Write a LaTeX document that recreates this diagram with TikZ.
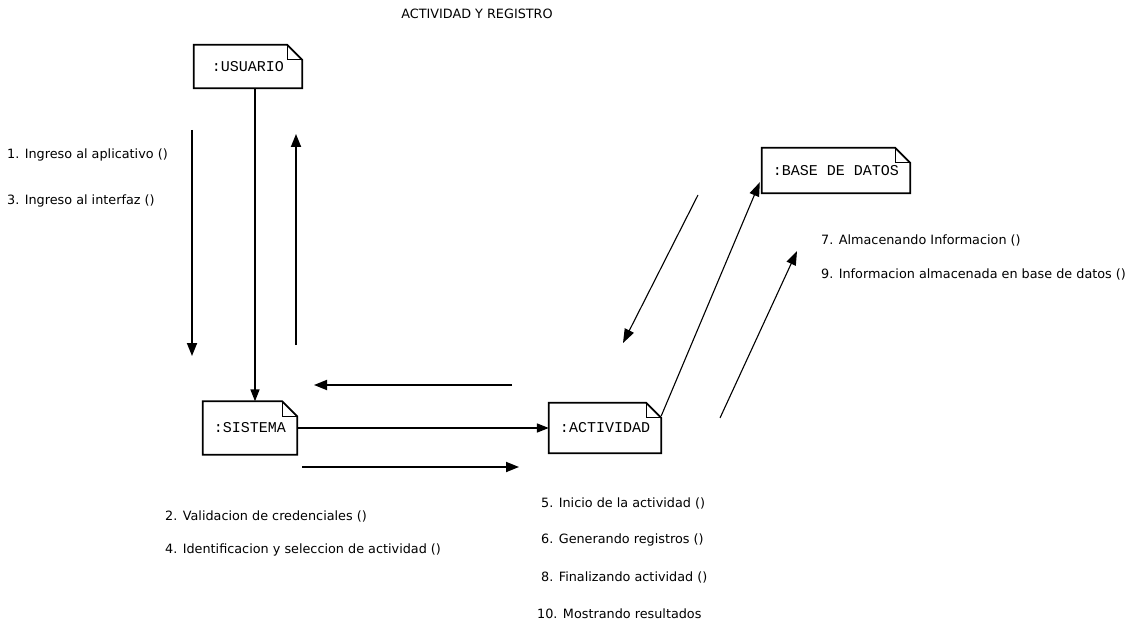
\documentclass[tikz,border=0pt]{standalone}
\usepackage{fontspec}
\setmainfont{DejaVu Sans}
\newfontfamily\monof{Liberation Mono}
\usetikzlibrary{arrows.meta}
\tikzset{
  obj/.style={draw=none, inner sep=0pt, font=\monof\fontsize{15}{16}\selectfont},
  outline/.style={line width=1.8pt, line join=miter},
  fold/.style={line width=1pt},
  link/.style={line width=1.6pt, -{Triangle[length=12pt,width=9pt]}},
  thinlink/.style={line width=1.1pt, -{Triangle[length=14pt,width=10pt]}},
  msg/.style={line width=1.8pt, -{Triangle[length=13pt,width=10pt]}},
  dmsg/.style={line width=1.1pt, -{Triangle[length=14pt,width=10pt]}},
  lbl/.style={anchor=west, inner sep=0pt, font=\fontsize{12.8}{14}\selectfont},
}
\newcommand{\notebox}[2]{%
  \draw[outline] (#1.north west) -- ([xshift=-#2]#1.north east) -- ([yshift=-#2]#1.north east) -- (#1.south east) -- (#1.south west) -- cycle;
  \draw[fold] ([xshift=-#2]#1.north east) |- ([yshift=-#2]#1.north east);}
\begin{document}
\begin{tikzpicture}[x=1pt,y=-1pt]
\useasboundingbox[fill=white] (0,0) rectangle (1135,631);
\node[lbl, anchor=center] (title) at (477,14) {ACTIVIDAD Y REGISTRO};
% objects
\node[obj, minimum width=108pt, minimum height=43pt] (usr) at (248,66.5) {:USUARIO};
\node[obj, minimum width=94pt, minimum height=53pt] (sis) at (250,428) {:SISTEMA};
\node[obj, minimum width=112pt, minimum height=50pt] (act) at (605,428) {:ACTIVIDAD};
\node[obj, minimum width=148pt, minimum height=45pt] (bd) at (836,170.5) {:BASE DE DATOS};
\notebox{usr}{15pt}
\notebox{sis}{15pt}
\notebox{act}{15pt}
\notebox{bd}{15pt}
% links
\draw[link] (usr.south -| 255,0) -- (sis.north -| 255,0);
\draw[link] (sis.east) -- (act.west);
\draw[thinlink] ([yshift=12pt]act.east) -- ([xshift=-2pt,yshift=11pt]bd.south west);
% message arrows
\coordinate (m1s) at (192,130); \coordinate (m1e) at (192,356);
\coordinate (m2s) at (296,345); \coordinate (m2e) at (296,134);
\coordinate (m3s) at (512,385); \coordinate (m3e) at (314,385);
\coordinate (m4s) at (302,467); \coordinate (m4e) at (519,467);
\coordinate (m5s) at (698,195); \coordinate (m5e) at (623,343);
\coordinate (m6s) at (720,418); \coordinate (m6e) at (797,251);
\draw[msg] (m1s) -- (m1e);
\draw[msg] (m2s) -- (m2e);
\draw[msg] (m3s) -- (m3e);
\draw[msg] (m4s) -- (m4e);
\draw[dmsg] (m5s) -- (m5e);
\draw[dmsg] (m6s) -- (m6e);
% labels
\node[lbl] (l1) at (7,155) {1. Ingreso al aplicativo ()};
\node[lbl] (l3) at (7,201) {3. Ingreso al interfaz ()};
\node[lbl] (l2) at (165,516) {2. Validacion de credenciales ()};
\node[lbl] (l4) at (165,550) {4. Identificacion y seleccion de actividad ()};
\node[lbl] (l5) at (541,503) {5. Inicio de la actividad ()};
\node[lbl] (l6) at (541,540) {6. Generando registros ()};
\node[lbl] (l8) at (541,577) {8. Finalizando actividad ()};
\node[lbl] (l10) at (537,614) {10. Mostrando resultados};
\node[lbl] (l7) at (821,240) {7. Almacenando Informacion ()};
\node[lbl] (l9) at (821,274) {9. Informacion almacenada en base de datos ()};
\end{tikzpicture}
\end{document}
